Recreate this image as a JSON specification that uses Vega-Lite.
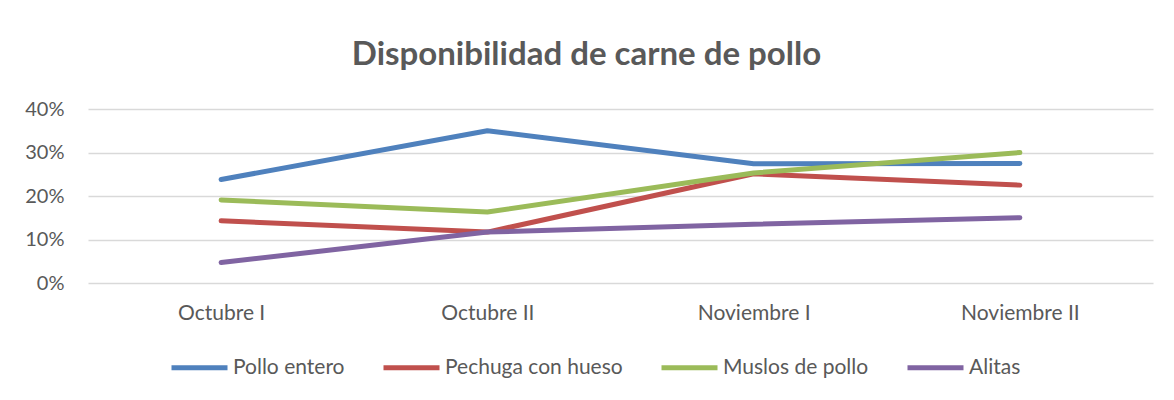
{
  "$schema": "https://vega.github.io/schema/vega-lite/v6.json",
  "autosize": {"type": "none"},
  "width": 1065,
  "height": 174,
  "padding": {"left": 88, "top": 109, "right": 21, "bottom": 117},
  "background": "white",
  "title": {
    "text": "Disponibilidad de carne de pollo",
    "font": "Lato",
    "fontSize": 33,
    "fontWeight": "bold",
    "color": "#595959",
    "anchor": "middle",
    "dx": -34,
    "offset": 27
  },
  "data": {
    "values": [
      {"periodo": "Octubre I", "serie": "Pollo entero", "valor": 0.238},
      {"periodo": "Octubre II", "serie": "Pollo entero", "valor": 0.350},
      {"periodo": "Noviembre I", "serie": "Pollo entero", "valor": 0.274},
      {"periodo": "Noviembre II", "serie": "Pollo entero", "valor": 0.275},
      {"periodo": "Octubre I", "serie": "Pechuga con hueso", "valor": 0.143},
      {"periodo": "Octubre II", "serie": "Pechuga con hueso", "valor": 0.117},
      {"periodo": "Noviembre I", "serie": "Pechuga con hueso", "valor": 0.251},
      {"periodo": "Noviembre II", "serie": "Pechuga con hueso", "valor": 0.225},
      {"periodo": "Octubre I", "serie": "Muslos de pollo", "valor": 0.191},
      {"periodo": "Octubre II", "serie": "Muslos de pollo", "valor": 0.163},
      {"periodo": "Noviembre I", "serie": "Muslos de pollo", "valor": 0.253},
      {"periodo": "Noviembre II", "serie": "Muslos de pollo", "valor": 0.300},
      {"periodo": "Octubre I", "serie": "Alitas", "valor": 0.047},
      {"periodo": "Octubre II", "serie": "Alitas", "valor": 0.117},
      {"periodo": "Noviembre I", "serie": "Alitas", "valor": 0.135},
      {"periodo": "Noviembre II", "serie": "Alitas", "valor": 0.150}
    ]
  },
  "mark": {"type": "line", "strokeWidth": 5, "strokeCap": "round", "strokeJoin": "round"},
  "encoding": {
    "x": {
      "field": "periodo",
      "type": "nominal",
      "sort": ["Octubre I", "Octubre II", "Noviembre I", "Noviembre II"],
      "scale": {"type": "point", "padding": 0.5},
      "axis": {
        "title": null,
        "labelAngle": 0,
        "ticks": false,
        "domain": false,
        "grid": false,
        "labelPadding": 19,
        "labelFont": "Lato",
        "labelFontSize": 21,
        "labelColor": "#595959"
      }
    },
    "y": {
      "field": "valor",
      "type": "quantitative",
      "scale": {"domain": [0, 0.4], "nice": false},
      "axis": {
        "title": null,
        "format": ".0%",
        "values": [0, 0.1, 0.2, 0.3, 0.4],
        "ticks": false,
        "domain": false,
        "grid": true,
        "gridColor": "#d9d9d9",
        "gridWidth": 1.5,
        "labelPadding": 24,
        "labelFont": "Lato",
        "labelFontSize": 20,
        "labelColor": "#595959"
      }
    },
    "color": {
      "field": "serie",
      "type": "nominal",
      "sort": ["Pollo entero", "Pechuga con hueso", "Muslos de pollo", "Alitas"],
      "scale": {
        "domain": ["Pollo entero", "Pechuga con hueso", "Muslos de pollo", "Alitas"],
        "range": ["#4F81BD", "#C0504D", "#9BBB59", "#8064A2"]
      },
      "legend": {
        "title": null,
        "orient": "none",
        "legendX": 81,
        "legendY": 228,
        "direction": "horizontal",
        "symbolType": "stroke",
        "symbolSize": 3136,
        "symbolStrokeWidth": 5,
        "labelFont": "Lato",
        "labelFontSize": 21,
        "labelColor": "#595959",
        "labelOffset": 3,
        "labelLimit": 400,
        "columnPadding": 28
      }
    }
  },
  "config": {"view": {"stroke": null}}
}
